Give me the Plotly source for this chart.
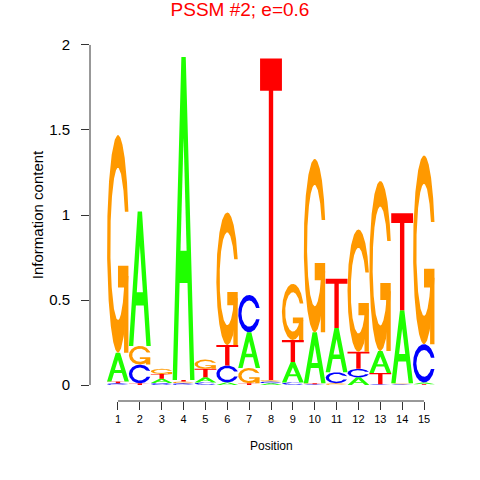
import numpy as np
import plotly.graph_objects as go

# sequence logo for PSSM #2, information content (bits) of each base per position
positions = list(range(1, 16))
bases = ["A", "C", "G", "T"]
height_A = [0.17, 0.79, 0.025, 1.90, 0.03, 0.015, 0.21, 0.01, 0.12, 0.30, 0.26, 0.045, 0.13, 0.43, 0.01]
height_C = [0.01, 0.11, 0.012, 0.01, 0.015, 0.10, 0.22, 0.01, 0.015, 0.005, 0.065, 0.05, 0.005, 0.005, 0.225]
height_G = [1.28, 0.11, 0.03, 0.01, 0.055, 0.78, 0.09, 0.01, 0.33, 1.02, 0.01, 0.72, 1.00, 0.005, 1.11]
height_T = [0.01, 0.01, 0.028, 0.01, 0.05, 0.12, 0.01, 1.89, 0.13, 0.005, 0.29, 0.10, 0.065, 0.57, 0.005]
y_ticks = [0, 0.5, 1, 1.5, 2]
y_tick_labels = ["0", "0.5", "1", "1.5", "2"]

heights = {"A": height_A, "C": height_C, "G": height_G, "T": height_T}
colors = {"A": "#1FFF00", "C": "#0000FF", "G": "#FF9900", "T": "#FF0000"}


def c_ring():
    """Outline of letter C in a unit box (seqLogo style)"""
    a1 = np.linspace(0.3 + np.pi / 2, np.pi, 100)
    a2 = np.linspace(np.pi, 1.5 * np.pi, 100)
    xl = np.concatenate((0.5 + 0.5 * np.sin(a1), 0.5 + 0.5 * np.sin(a2)))
    yl1 = 0.5 + 0.5 * np.cos(a1)
    yl = np.concatenate((yl1, 0.5 + 0.5 * np.cos(a2)))
    x = np.concatenate((xl, xl[::-1]))
    y = np.concatenate((yl, 1 - yl[::-1]))

    xi1 = 0.5 + 0.35 * np.sin(a1)
    yi1 = 0.5 + 0.35 * np.cos(a1)
    keep = yi1 <= yl1.max()
    xi1 = xi1[keep]
    yi1 = yi1[keep]
    yi1[0] = yl1.max()
    xi = np.concatenate((xi1, 0.5 + 0.35 * np.sin(a2)))
    yi = np.concatenate((yi1, 0.5 + 0.35 * np.cos(a2)))
    x1 = np.concatenate((xi, xi[::-1]))
    y1 = np.concatenate((yi, 1 - yi[::-1]))
    return np.concatenate((x, x1[::-1])), np.concatenate((y, y1[::-1])), xl.max()


def glyph(letter):
    """List of (x, y, is_hole) polygons in a unit box"""
    if letter == "A":
        x = np.array([0, 4, 6, 10, 8, 6.8, 3.2, 2, 0]) * 0.1
        y = np.array([0, 10, 10, 0, 0, 3, 3, 0, 0]) * 0.1
        hx = np.array([3.6, 5, 6.4, 3.6]) * 0.1
        hy = np.array([4, 7.5, 4, 4]) * 0.1
        return [(x, y, False), (hx, hy, True)]
    if letter == "T":
        x = np.array([0, 10, 10, 6, 6, 4, 4, 0, 0]) * 0.1
        y = np.array([10, 10, 9, 9, 0, 0, 9, 9, 10]) * 0.1
        return [(x, y, False)]
    x, y, r1 = c_ring()
    polys = [(x, y, False)]
    if letter == "G":
        h1 = 0.4
        ax = np.array([r1, 0.5, 0.5, r1 - 0.2, r1 - 0.2, r1, r1])
        ay = np.array([h1, h1, h1 - 0.1, h1 - 0.1, 0, 0, h1])
        polys.append((ax, ay, False))
    return polys


fig = go.Figure()
for i, pos in enumerate(positions):
    # smallest at the bottom, ties keep A, C, G, T order
    stack = sorted(bases, key=lambda b: heights[b][i])
    base = 0.0
    for b in stack:
        h = heights[b][i]
        for gx, gy, hole in glyph(b):
            fig.add_trace(go.Scatter(x=pos - 0.5 + gx, y=base + h * gy,
                                     mode="lines", fill="toself",
                                     fillcolor="white" if hole else colors[b],
                                     line=dict(width=0, color=colors[b]),
                                     hoverinfo="skip", showlegend=False))
        base += h

axis_color = "#333333"
fig.update_layout(
    width=480, height=480,
    margin=dict(l=90, r=28, t=29, b=79, autoexpand=False),
    paper_bgcolor="white", plot_bgcolor="white",
    font=dict(family="Liberation Sans, Arial, sans-serif", color="black"),
    title=dict(text="PSSM #2; e=0.6", font=dict(size=19, color="#FF0000"),
               x=0.5, xref="container", xanchor="center",
               y=1 - 9 / 480, yref="container", yanchor="middle"),
    xaxis=dict(range=[-0.28, 16.28], tickvals=positions,
               ticktext=[str(p) for p in positions],
               ticks="outside", ticklen=8, tickcolor=axis_color,
               tickfont=dict(size=11), showgrid=False, zeroline=False,
               showline=False, fixedrange=True, automargin=False),
    yaxis=dict(range=[-0.094, 2.094], tickvals=y_ticks, ticktext=y_tick_labels,
               ticks="outside", ticklen=8, tickcolor=axis_color,
               tickfont=dict(size=15), ticklabelstandoff=8,
               showgrid=False, zeroline=False, showline=False, fixedrange=True,
               automargin=False),
    shapes=[
        dict(type="line", xref="x", yref="paper", x0=positions[0], x1=positions[-1],
             y0=0, y1=0, line=dict(color=axis_color, width=1)),
        dict(type="line", xref="paper", yref="y", x0=0, x1=0,
             y0=y_ticks[0], y1=y_ticks[-1], line=dict(color=axis_color, width=1)),
    ],
    annotations=[
        dict(text="Position", xref="x", yref="paper", x=8, y=-0.121,
             xanchor="center", yanchor="middle", showarrow=False,
             font=dict(size=12)),
        dict(text="Information content", xref="paper", yref="y", x=-0.146, y=1,
             xanchor="center", yanchor="middle", textangle=-90, showarrow=False,
             font=dict(size=15)),
    ],
)

# the page body has an 8px default margin; drop it so the figure sits at 0,0
fig.write_html("out.html", config={"displayModeBar": False},
               post_script="document.body.style.margin='0';")
